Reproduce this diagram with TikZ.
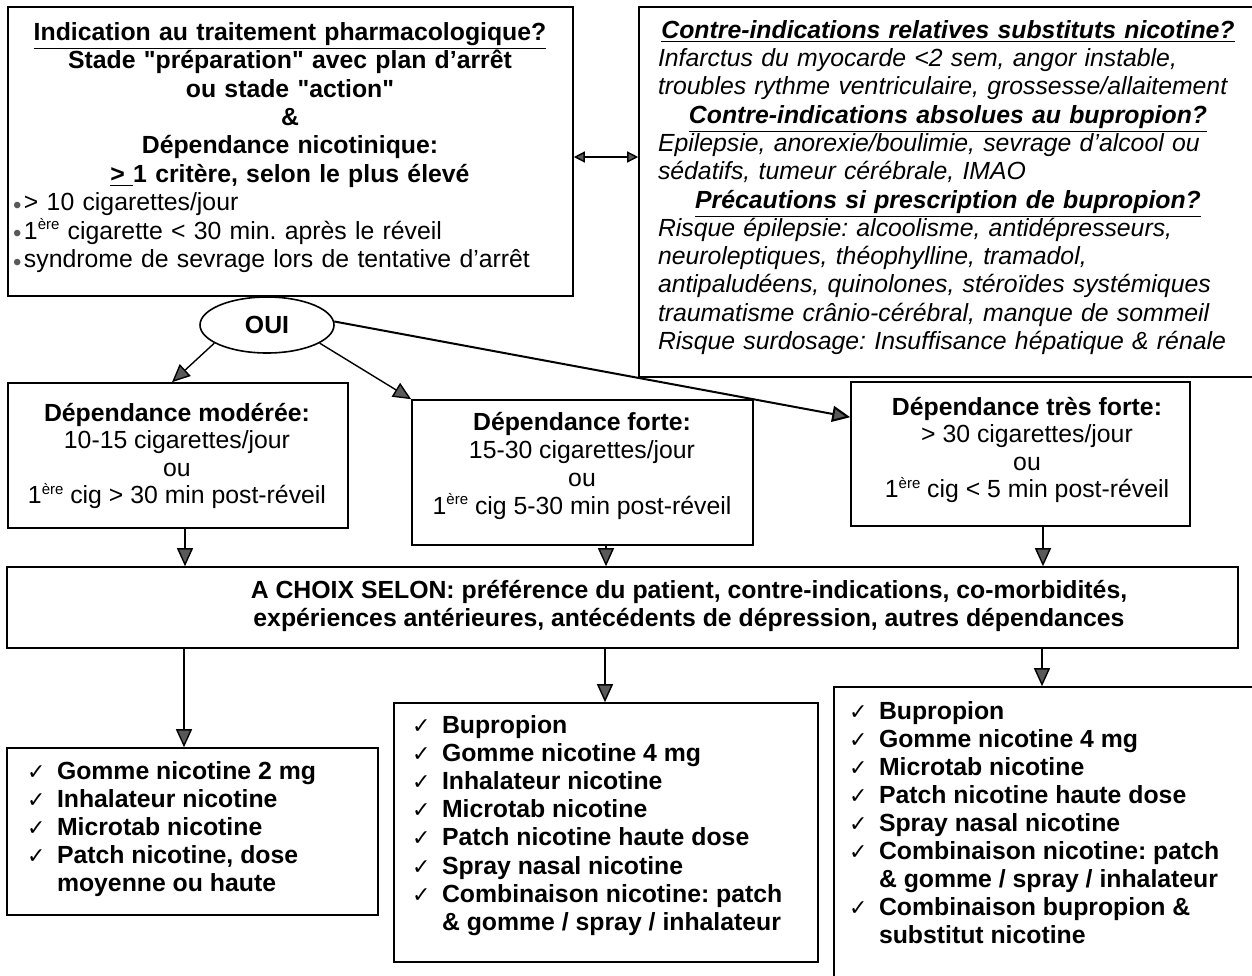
\documentclass[tikz,border=0pt]{standalone}
\usepackage{fontspec}
\setmainfont{Liberation Sans}
\newfontfamily\symfont{DejaVu Sans}
\newfontfamily\qfont{Liberation Sans}
\usetikzlibrary{arrows.meta,shapes.geometric,calc}
\frenchspacing
\newcommand\ckm{\makebox[15pt][l]{\symfont\mdseries\fontsize{11}{11}\selectfont ✓}}
\newcommand\ckind{\hspace*{15pt}}
\newcommand\bul{\makebox[5.5pt][l]{\textcolor{black!65}{\raisebox{-0.2ex}{\fontsize{12}{12}\selectfont •}}}}
\newcommand\supe[1]{\raisebox{0.75ex}{\fontsize{7.5}{7.5}\selectfont #1}}
\newcommand\qq{{\qfont "}}
\definecolor{tipgray}{gray}{0.35}
\begin{document}
\begin{tikzpicture}[x=0.5pt,y=-0.5pt,
  font=\fontsize{12.4}{14.2}\selectfont,
  box/.style={draw, line width=0.8pt, inner sep=0pt},
  txt/.style={inner sep=0pt, outer sep=0pt},
  arr/.style={line width=0.7pt, -{Triangle[length=9pt,width=8pt,fill=tipgray]}},
  darr/.style={line width=0.7pt, {Triangle[length=5.5pt,width=5.5pt,fill=tipgray]}-{Triangle[length=5.5pt,width=5.5pt,fill=tipgray]}}]
\useasboundingbox (0,0) rectangle (1252,975);
\clip (0,0) rectangle (1252,975);
\fill[white] (0,0) rectangle (1252,975);

% boxes
\node[box, minimum width=282.5pt, minimum height=144.5pt] (tl) at (290.5,151.5) {};
\node[box, minimum width=311.5pt, minimum height=185pt] (tr) at (950.5,192) {};
\node[box, ellipse, minimum width=67pt, minimum height=28pt] (oui) at (267,325) {\textbf{OUI}};
\node[box, minimum width=170pt, minimum height=72.5pt] (moder) at (178,455.5) {};
\node[box, minimum width=170.5pt, minimum height=72.5pt] (forte) at (582.5,472.5) {};
\node[box, minimum width=169.5pt, minimum height=72pt] (tforte) at (1020.5,454) {};
\node[box, minimum width=615.5pt, minimum height=40.5pt] (choix) at (622.5,607.5) {};
\node[box, minimum width=185.5pt, minimum height=83.5pt] (bl) at (192.5,831.5) {};
\node[box, minimum width=212pt, minimum height=129.5pt] (bm) at (606,832.5) {};
\node[box, minimum width=214pt, minimum height=154pt] (br) at (1048,841) {};

% texts
\node[txt, text width=277pt, align=left, anchor=west] (tltext) at (13,147.5) {%
\makebox[\linewidth]{\bfseries\underline{Indication au traitement pharmacologique?}}\\
\makebox[\linewidth]{\bfseries Stade \qq préparation\qq{} avec plan d'arrêt}\\
\makebox[\linewidth]{\bfseries ou stade \qq action\qq}\\
\makebox[\linewidth]{\bfseries \&}\\
\makebox[\linewidth]{\bfseries Dépendance nicotinique:}\\
\makebox[\linewidth]{\bfseries \underline{>\ }1 critère, selon le plus élevé}\\
\bul > 10 cigarettes/jour\\
\bul 1\supe{ère} cigarette < 30 min. après le réveil\\
\bul syndrome de sevrage lors de tentative d'arrêt};

\node[txt, text width=290pt, align=left, anchor=west, font=\fontsize{12.4}{14.15}\selectfont\itshape] (trtext) at (658,187.5) {%
\makebox[\linewidth]{\bfseries\underline{Contre-indications relatives substituts nicotine?}}\\
Infarctus du myocarde <2 sem, angor instable,\\
troubles rythme ventriculaire, grossesse/allaitement\\
\makebox[\linewidth]{\bfseries\underline{Contre-indications absolues au bupropion?}}\\
Epilepsie, anorexie/boulimie, sevrage d'alcool ou\\
sédatifs, tumeur cérébrale, IMAO\\
\makebox[\linewidth]{\bfseries\underline{Précautions si prescription de bupropion?}}\\
Risque épilepsie: alcoolisme, antidépresseurs,\\
neuroleptiques, théophylline, tramadol,\\
antipaludéens, quinolones, stéroïdes systémiques\\
traumatisme crânio-cérébral, manque de sommeil\\
Risque surdosage: Insuffisance hépatique \& rénale};

\node[txt, align=center, font=\fontsize{12.4}{13.8}\selectfont] (mtext) at (177,456) {\textbf{Dépendance modérée:}\\10-15 cigarettes/jour\\ou\\1\supe{ère} cig > 30 min post-réveil};
\node[txt, align=center, font=\fontsize{12.4}{14}\selectfont] (ftext) at (582,465.5) {\textbf{Dépendance forte:}\\15-30 cigarettes/jour\\ou\\1\supe{ère} cig 5-30 min post-réveil};
\node[txt, align=center, font=\fontsize{12.4}{13.8}\selectfont] (tftext) at (1027,450) {\textbf{Dépendance très forte:}\\> 30 cigarettes/jour\\ou\\1\supe{ère} cig < 5 min post-réveil};

\node[txt, align=center, font=\fontsize{12.4}{14}\selectfont\bfseries] (ctext) at (689,606) {A CHOIX SELON: préférence du patient, contre-indications, co-morbidités,\\expériences antérieures, antécédents de dépression, autres dépendances};

\node[txt, align=left, anchor=west, font=\fontsize{12.4}{14}\selectfont\bfseries] (bltext) at (27,829) {%
\ckm Gomme nicotine 2 mg\\%
\ckm Inhalateur nicotine\\%
\ckm Microtab nicotine\\%
\ckm Patch nicotine, dose\\%
\ckind moyenne ou haute};

\node[txt, align=left, anchor=west, font=\fontsize{12.4}{14.05}\selectfont\bfseries] (bmtext) at (412,825.5) {%
\ckm Bupropion\\%
\ckm Gomme nicotine 4 mg\\%
\ckm Inhalateur nicotine\\%
\ckm Microtab nicotine\\%
\ckm Patch nicotine haute dose\\%
\ckm Spray nasal nicotine\\%
\ckm Combinaison nicotine: patch\\%
\ckind \& gomme / spray / inhalateur};

\node[txt, align=left, anchor=west, font=\fontsize{12.4}{14}\selectfont\bfseries] (brtext) at (849,823) {%
\ckm Bupropion\\%
\ckm Gomme nicotine 4 mg\\%
\ckm Microtab nicotine\\%
\ckm Patch nicotine haute dose\\%
\ckm Spray nasal nicotine\\%
\ckm Combinaison nicotine: patch\\%
\ckind \& gomme / spray / inhalateur\\%
\ckm Combinaison bupropion \&\\%
\ckind substitut nicotine};

% helper coordinates
\coordinate (ya) at (0,157);
\coordinate (c1) at (185,0);
\coordinate (c2) at (606,0);
\coordinate (c3) at (1043,0);
\coordinate (d1) at (184,0);
\coordinate (d2) at (605,0);
\coordinate (d3) at (1042,0);

% connectors
\draw[darr] (tl.east |- ya) -- (tr.west |- ya);
\draw[arr] (oui.199) -- ([xshift=-3pt]moder.north);
\draw[arr] (oui.341) -- (forte.north west);
\draw[arr, line width=1pt] (oui.3) -- ([yshift=-18pt]tforte.north west);
\draw[arr] (moder.south -| c1) -- (choix.north -| c1);
\draw[arr] (forte.south -| c2) -- (choix.north -| c2);
\draw[arr] (tforte.south -| c3) -- (choix.north -| c3);
\draw[arr] (choix.south -| d1) -- (bl.north -| d1);
\draw[arr] (choix.south -| d2) -- (bm.north -| d2);
\draw[arr] (choix.south -| d3) -- (br.north -| d3);
\end{tikzpicture}
\end{document}
